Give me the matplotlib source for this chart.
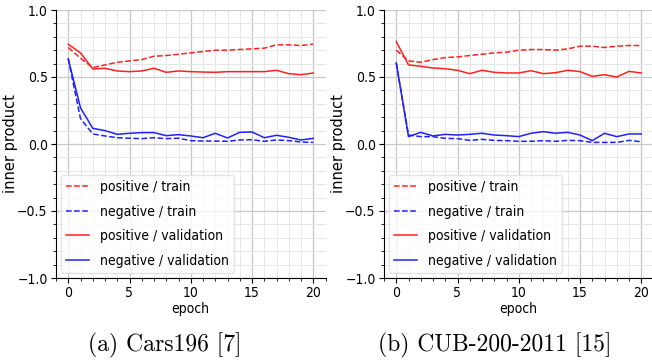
import numpy as np
import matplotlib.pyplot as plt
from matplotlib import font_manager
from matplotlib.ticker import MultipleLocator

epochs = np.arange(21)

# Cars196
cars_pos_train = [0.72, 0.64, 0.57, 0.59, 0.61, 0.62, 0.63, 0.655, 0.66, 0.67, 0.68,
                  0.69, 0.70, 0.70, 0.705, 0.71, 0.715, 0.74, 0.74, 0.735, 0.745]
cars_neg_train = [0.635, 0.19, 0.075, 0.06, 0.047, 0.043, 0.04, 0.047, 0.04, 0.043, 0.025,
                  0.022, 0.022, 0.02, 0.03, 0.032, 0.02, 0.03, 0.025, 0.015, 0.012]
cars_pos_val = [0.745, 0.68, 0.56, 0.565, 0.545, 0.54, 0.545, 0.565, 0.535, 0.545, 0.54,
                0.537, 0.535, 0.54, 0.54, 0.54, 0.54, 0.55, 0.525, 0.517, 0.53]
cars_neg_val = [0.635, 0.27, 0.117, 0.1, 0.072, 0.08, 0.085, 0.085, 0.062, 0.07, 0.06,
                0.047, 0.08, 0.045, 0.087, 0.09, 0.047, 0.065, 0.05, 0.03, 0.042]

# CUB-200-2011
cub_pos_train = [0.70, 0.62, 0.61, 0.63, 0.645, 0.65, 0.66, 0.67, 0.68, 0.685, 0.70,
                 0.705, 0.705, 0.70, 0.71, 0.73, 0.73, 0.72, 0.73, 0.735, 0.735]
cub_neg_train = [0.605, 0.067, 0.055, 0.055, 0.042, 0.04, 0.027, 0.035, 0.027, 0.025, 0.02,
                 0.02, 0.025, 0.02, 0.027, 0.025, 0.012, 0.012, 0.012, 0.027, 0.017]
cub_pos_val = [0.765, 0.59, 0.58, 0.567, 0.562, 0.55, 0.525, 0.55, 0.535, 0.53, 0.53,
               0.547, 0.525, 0.532, 0.55, 0.54, 0.505, 0.517, 0.50, 0.542, 0.53]
cub_neg_val = [0.605, 0.055, 0.087, 0.06, 0.072, 0.067, 0.072, 0.08, 0.067, 0.062, 0.055,
               0.08, 0.092, 0.08, 0.087, 0.067, 0.025, 0.08, 0.055, 0.075, 0.075]

captions = ['(a) Cars196 [7]', '(b) CUB-200-2011 [15]']

# the reference text looks horizontally squeezed; use a condensed face if there is one
fp = font_manager.FontProperties(family='DejaVu Sans', stretch='condensed')
path = font_manager.findfont(fp, fallback_to_default=True)
if 'Condensed' in path:
    plt.rcParams['font.stretch'] = 'condensed'
    fs = 10
else:
    fs = 9.2

fig = plt.figure(figsize=(6.52, 3.61), dpi=100)
W, H = 652, 361
ax1 = fig.add_axes([56 / W, 1 - 278 / H, 269.5 / W, 268 / H])
ax2 = fig.add_axes([384 / W, 1 - 278 / H, 269.5 / W, 268 / H])

panels = [
    (ax1, cars_pos_train, cars_neg_train, cars_pos_val, cars_neg_val),
    (ax2, cub_pos_train, cub_neg_train, cub_pos_val, cub_neg_val),
]

red = '#ff2020'
blue = '#2020ff'

for ax, pt, nt, pv, nv in panels:
    ax.plot(epochs, pt, '--', color=red, lw=1.1, label='positive / train')
    ax.plot(epochs, nt, '--', color=blue, lw=1.1, label='negative / train')
    ax.plot(epochs, pv, '-', color=red, lw=1.1, label='positive / validation')
    ax.plot(epochs, nv, '-', color=blue, lw=1.1, label='negative / validation')
    ax.set_xlim(-1, 21)
    ax.set_ylim(-1, 1)
    ax.xaxis.set_major_locator(MultipleLocator(5))
    ax.xaxis.set_minor_locator(MultipleLocator(1))
    ax.yaxis.set_major_locator(MultipleLocator(0.5))
    ax.yaxis.set_minor_locator(MultipleLocator(0.1))
    ax.grid(which='major', color='#c8c8c8', lw=0.9)
    ax.grid(which='minor', color='#e6e6e6', lw=0.7)
    ax.set_axisbelow(True)
    for s in ['top', 'right']:
        ax.spines[s].set_visible(False)
    ax.tick_params(labelsize=fs, pad=2.5)
    ax.set_xlabel('epoch', fontsize=fs, labelpad=1)
    # rotated, so the squeeze runs along its height: normal width here
    ax.set_ylabel('inner product', fontsize=10.5, fontstretch='normal')
    ax.yaxis.set_label_coords(-0.14, 0.5)
    ax.legend(loc='lower left', fontsize=fs, handlelength=1.6, framealpha=0.8,
              edgecolor='#dddddd', borderaxespad=0.35, labelspacing=0.75,
              handletextpad=0.8)

for cx, cap in zip([165, 495], captions):
    fig.text(cx / W, 1 - 345 / H, cap, ha='center', va='center',
             fontsize=17, family='cmr10')

fig.savefig('out.png', dpi=100)
